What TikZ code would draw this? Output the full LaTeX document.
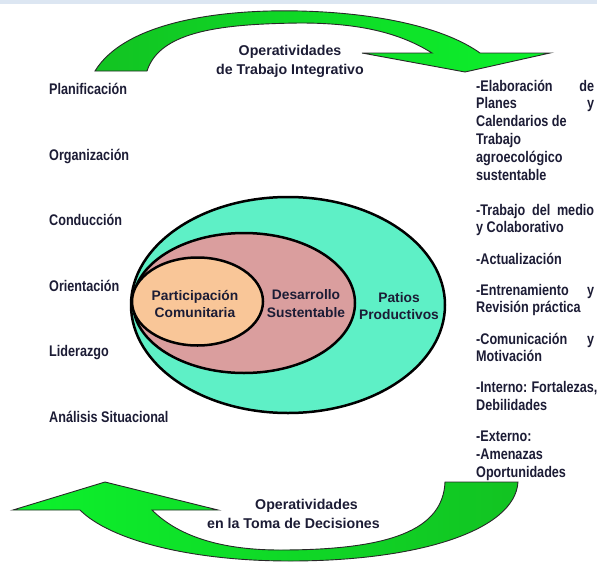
\documentclass[tikz,border=0pt]{standalone}
\usepackage{fontspec}
\setmainfont{Liberation Sans}
\newfontfamily\narrowfont{Liberation Sans}[FakeStretch=0.82]
\definecolor{txt}{HTML}{1C1C35}
\definecolor{gdark}{HTML}{12C322}
\definecolor{gbright}{HTML}{0CF22C}
\definecolor{patios}{HTML}{5EF0C6}
\definecolor{desarrollo}{HTML}{DA9E9E}
\definecolor{partic}{HTML}{F9C698}
\definecolor{topbar}{HTML}{DCE6F2}
\definecolor{edge}{HTML}{282828}
\newcommand{\jline}[1]{\makebox[\linewidth][s]{#1}}
\begin{document}
\begin{tikzpicture}[x=1pt,y=-1pt,
  lbl/.style={font=\narrowfont\bfseries\fontsize{15.4}{17.8}\selectfont,text=txt,inner sep=0pt,anchor=base west},
  hdr/.style={font=\bfseries\fontsize{14.2}{19}\selectfont,text=txt,inner sep=0pt},
  elltext/.style={font=\bfseries\fontsize{13.8}{17.6}\selectfont,text=txt,inner sep=0pt,anchor=base},
  ring/.style={draw=black,line width=2.5pt},
  bigarrow/.style={draw=edge,line width=0.9pt,line join=miter}
]
\useasboundingbox (0,0) rectangle (597,562);
\fill[topbar] (0,0) rectangle (597,3.5);

% top curved arrow
\path[bigarrow,left color=gdark,right color=gbright]
  (95,71) .. controls (125,22) and (220,9) .. (300,11)
  .. controls (380,13) and (445,28) .. (480,53)
  -- (550,53) -- (465,72) -- (362,53) -- (432,53)
  .. controls (400,33) and (360,23) .. (300,23)
  .. controls (225,24) and (160,30) .. (147,71) -- cycle;

% bottom curved arrow
\path[bigarrow,left color=gbright,right color=gdark]
  (13,510) -- (105,482) -- (218,510) -- (152,510)
  .. controls (180,538) and (225,550) .. (280,550)
  .. controls (390,550) and (443,530) .. (445,482)
  -- (518,482)
  .. controls (515,530) and (420,561) .. (290,561)
  .. controls (190,561) and (110,540) .. (80,510) -- cycle;

% nested ellipses
\filldraw[ring,fill=patios] (288,305) ellipse [x radius=157pt,y radius=108pt];
\filldraw[ring,fill=desarrollo] (244,303) ellipse [x radius=111pt,y radius=70pt];
\filldraw[ring,fill=partic] (197.5,301.5) ellipse [x radius=65.5pt,y radius=44pt];

\node[elltext] (partic) at (195,300) {\parbox[t]{110pt}{\centering Participación\\Comunitaria}};
\node[elltext] (desa) at (306,299.5) {\parbox[t]{100pt}{\centering Desarrollo\\Sustentable}};
\node[elltext] (patios) at (399,302.3) {\parbox[t]{100pt}{\centering Patios\\Productivos}};

% headers
\node[hdr,anchor=base] (hdrtop) at (290,55) {\parbox[t]{200pt}{\centering Operatividades\\de Trabajo Integrativo}};
\node[hdr,anchor=base west] (hdrbot) at (207,509.3) {\parbox[t]{200pt}{\raggedright\hspace*{48pt}Operatividades\\en la Toma de Decisiones}};

% left labels
\node[lbl] (l1) at (49,94) {Planificación};
\node[lbl] (l2) at (49,160) {Organización};
\node[lbl] (l3) at (49,225) {Conducción};
\node[lbl] (l4) at (49,291) {Orientación};
\node[lbl] (l5) at (49,356) {Liderazgo};
\node[lbl] (l6) at (49,422) {Análisis Situacional};

% right column
\node[lbl] (r1) at (476,91) {\parbox[t]{118pt}{\raggedright\jline{-Elaboración de}\\\jline{Planes y}\\Calendarios de\\Trabajo\\agroecológico\\sustentable}};
\node[lbl] (r2) at (476,215) {\parbox[t]{118pt}{\raggedright\jline{-Trabajo del medio}\\y Colaborativo}};
\node[lbl] (r3) at (476,264) {-Actualización};
\node[lbl] (r4) at (476,295) {\parbox[t]{118pt}{\raggedright\jline{-Entrenamiento y}\\Revisión práctica}};
\node[lbl] (r5) at (476,344) {\parbox[t]{118pt}{\raggedright\jline{-Comunicación y}\\Motivación}};
\node[lbl] (r6) at (476,392.6) {\parbox[t]{118pt}{\raggedright\jline{-Interno: Fortalezas,}\\Debilidades}};
\node[lbl] (r7) at (476,441.8) {\parbox[t]{118pt}{\raggedright -Externo:\\-Amenazas\\Oportunidades}};
\end{tikzpicture}
\end{document}
